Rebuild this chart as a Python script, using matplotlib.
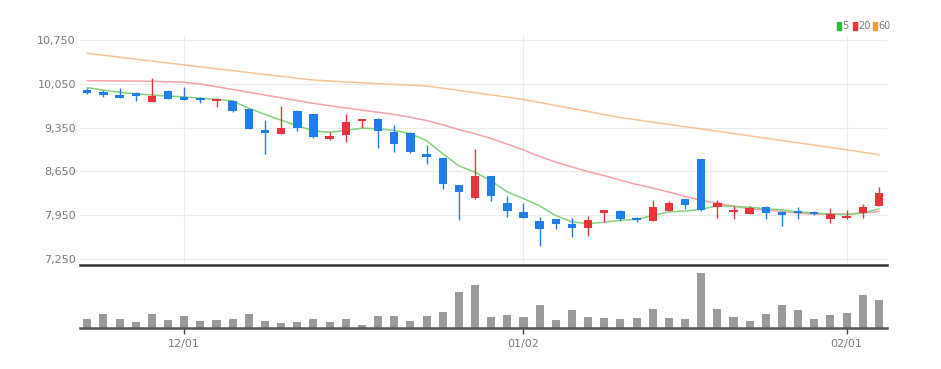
import matplotlib
matplotlib.use('Agg')
import matplotlib.pyplot as plt
from matplotlib.patches import Rectangle
import numpy as np

plt.rcParams['font.family'] = ['Liberation Sans Narrow', 'DejaVu Sans']

dates = ['11/23', '11/24', '11/25', '11/28', '11/29', '11/30', '12/01', '12/02', '12/05', '12/06',
         '12/07', '12/08', '12/09', '12/12', '12/13', '12/14', '12/15', '12/16', '12/19', '12/20',
         '12/21', '12/22', '12/23', '12/26', '12/27', '12/28', '12/29', '01/02', '01/03', '01/04',
         '01/05', '01/06', '01/09', '01/10', '01/11', '01/12', '01/13', '01/16', '01/17', '01/18',
         '01/19', '01/20', '01/25', '01/26', '01/27', '01/30', '01/31', '02/01', '02/02', '02/03']

opens = [9946, 9919, 9876, 9908, 9759, 9940, 9839, 9828, 9775, 9780,
         9647, 9307, 9253, 9620, 9563, 9163, 9232, 9456, 9488, 9285,
         9269, 8923, 8859, 8438, 8220, 8572, 8150, 7997, 7862, 7890,
         7810, 7750, 7990, 8022, 7900, 7863, 8022, 8209, 8843, 8086,
         8001, 7974, 8086, 8006, 8012, 7996, 7895, 7910, 7990, 8102]
highs = [9988, 9946, 9978, 9915, 10148, 9948, 10000, 9835, 9820, 9790,
         9650, 9472, 9695, 9625, 9570, 9285, 9563, 9495, 9510, 9392,
         9275, 9072, 8865, 8440, 9003, 8580, 8257, 8140, 7926, 7895,
         7900, 7937, 8040, 8030, 7915, 8193, 8175, 8215, 8850, 8193,
         8092, 8092, 8092, 8012, 8076, 8010, 8060, 8033, 8124, 8406]
lows = [9895, 9839, 9820, 9775, 9759, 9805, 9785, 9748, 9684, 9600,
        9325, 8933, 9253, 9296, 9190, 9155, 9120, 9339, 9029, 8965,
        8950, 8764, 8369, 7874, 8215, 8177, 7926, 7900, 7458, 7730,
        7597, 7623, 7837, 7858, 7850, 7855, 8015, 8044, 8025, 7910,
        7890, 7970, 7890, 7778, 7885, 7950, 7831, 7885, 7910, 8095]
closes = [9903, 9876, 9828, 9860, 9860, 9812, 9791, 9791, 9807, 9615,
          9332, 9259, 9349, 9349, 9205, 9221, 9445, 9488, 9291, 9083,
          8965, 8880, 8449, 8316, 8582, 8257, 8017, 7910, 7735, 7805,
          7750, 7874, 8033, 7890, 7869, 8076, 8140, 8108, 8033, 8145,
          8039, 8060, 7990, 7948, 7980, 7964, 7969, 7943, 8076, 8310]
volumes = [43500, 70000, 43500, 30000, 70000, 38500, 60000, 36500, 38500, 46500,
           70000, 36500, 26500, 30000, 43500, 30000, 46500, 13500, 60000, 60000,
           35000, 60000, 78500, 178500, 213500, 53500, 63500, 53500, 116500, 40000,
           90000, 56500, 48500, 45000, 48500, 96500, 48500, 45000, 275000, 96500,
           56500, 36500, 71500, 113500, 88500, 45000, 65000, 75000, 166500, 138500]
ma5 = [9988, 9950, 9915, 9890, 9871, 9855, 9840, 9820, 9802, 9775,
       9660, 9560, 9469, 9380, 9299, 9277, 9304, 9342, 9330, 9306,
       9254, 9141, 8934, 8739, 8638, 8497, 8324, 8216, 8100, 7945,
       7843, 7815, 7839, 7870, 7883, 7948, 8002, 8017, 8045, 8100,
       8093, 8077, 8053, 8036, 8003, 7988, 7970, 7961, 7986, 8052]
ma20 = [10100, 10098, 10096, 10094, 10090, 10084, 10074, 10047, 10003, 9960,
        9915, 9870, 9826, 9782, 9738, 9700, 9665, 9630, 9595, 9561,
        9514, 9464, 9395, 9318, 9254, 9176, 9087, 8993, 8889, 8799,
        8720, 8648, 8582, 8509, 8442, 8385, 8320, 8251, 8188, 8141,
        8095, 8054, 8031, 8013, 7983, 7968, 7966, 7968, 7985, 8010]
ma60 = [10537, 10506, 10475, 10444, 10413, 10382, 10352, 10321, 10290, 10260,
        10230, 10200, 10170, 10140, 10110, 10095, 10080, 10066, 10052, 10040,
        10028, 10015, 9980, 9945, 9908, 9872, 9838, 9800, 9752, 9703,
        9655, 9607, 9558, 9510, 9474, 9438, 9402, 9366, 9330, 9293,
        9256, 9219, 9182, 9145, 9108, 9071, 9034, 8997, 8957, 8917]
ma_labels = ['5', '20', '60']
y_ticks = [7250, 7950, 8650, 9350, 10050, 10750]

UP = '#e8353b'
DOWN = '#1f7ee8'
MA_COLORS = ['#84d17e', '#f5a3a6', '#f8c394']
LEG_COLORS = ['#2ebd3a', '#e8353b', '#f39a3c']
GRAY_TXT = '#7a7a7a'

W, H = 941, 369
fig = plt.figure(figsize=(W / 100, H / 100), dpi=100)
ax = fig.add_axes([80 / W, 1 - 265 / H, 807 / W, 230 / H])
axv = fig.add_axes([80 / W, 1 - 328 / H, 807 / W, 60 / H], sharex=ax)

x = np.arange(len(closes))
o = np.array(opens); c = np.array(closes)
hi = np.array(highs); lo = np.array(lows)
cols = [UP if cc >= oo else DOWN for oo, cc in zip(o, c)]

# month-start ticks
tick_idx = [i for i in range(1, len(dates)) if dates[i][:2] != dates[i - 1][:2]]
tick_lab = [dates[i] for i in tick_idx]

# MA lines
for vals, col in zip([ma60, ma20, ma5], MA_COLORS[::-1]):
    ax.plot(x, vals, color=col, lw=1.1, zorder=2)

# candles
ax.vlines(x, lo, hi, colors=cols, lw=1.0, zorder=3)
body_h = np.maximum(np.abs(c - o), 18)
body_b = np.minimum(o, c)
ax.bar(x, body_h, bottom=body_b, width=0.52, color=cols, zorder=4, linewidth=0)

ax.set_xlim(-0.45, len(closes) - 0.5)
ax.set_ylim(7155, 10830)
ax.set_yticks(y_ticks)
ax.set_yticklabels([f'{v:,}' for v in y_ticks])
ax.tick_params(axis='y', length=0, pad=3, labelsize=8, labelcolor=GRAY_TXT)
ax.set_xticks(tick_idx)
ax.tick_params(axis='x', length=0, labelbottom=False)
ax.grid(True, color='#ebebeb', lw=0.8, zorder=0)
ax.set_axisbelow(True)
for s in ['top', 'left', 'right']:
    ax.spines[s].set_visible(False)
ax.spines['bottom'].set_color('#333333')
ax.spines['bottom'].set_linewidth(1.8)

# volume
axv.bar(x, volumes, width=0.5, color='#9a9a9a', linewidth=0, zorder=2)
axv.set_ylim(0, 300000)
axv.set_yticks([])
for s in ['top', 'left', 'right']:
    axv.spines[s].set_visible(False)
axv.spines['bottom'].set_color('#555555')
axv.spines['bottom'].set_linewidth(1.8)
axv.set_xticks(tick_idx)
axv.set_xticklabels(tick_lab)
axv.tick_params(axis='x', length=4, width=1, color='#444444', pad=4,
                labelsize=8, labelcolor=GRAY_TXT)

# legend (top right)
lx = 837
for lab, col in zip(ma_labels, LEG_COLORS):
    fig.patches.append(Rectangle((lx / W, 1 - 30 / H), 4 / W, 8 / H,
                                 transform=fig.transFigure, color=col))
    fig.text((lx + 5.5) / W, 1 - 26 / H, lab, fontsize=7, color=GRAY_TXT,
             va='center', ha='left')
    lx += 4 + 2 + 4.6 * len(lab) + 5

fig.savefig('out.png', dpi=100)
